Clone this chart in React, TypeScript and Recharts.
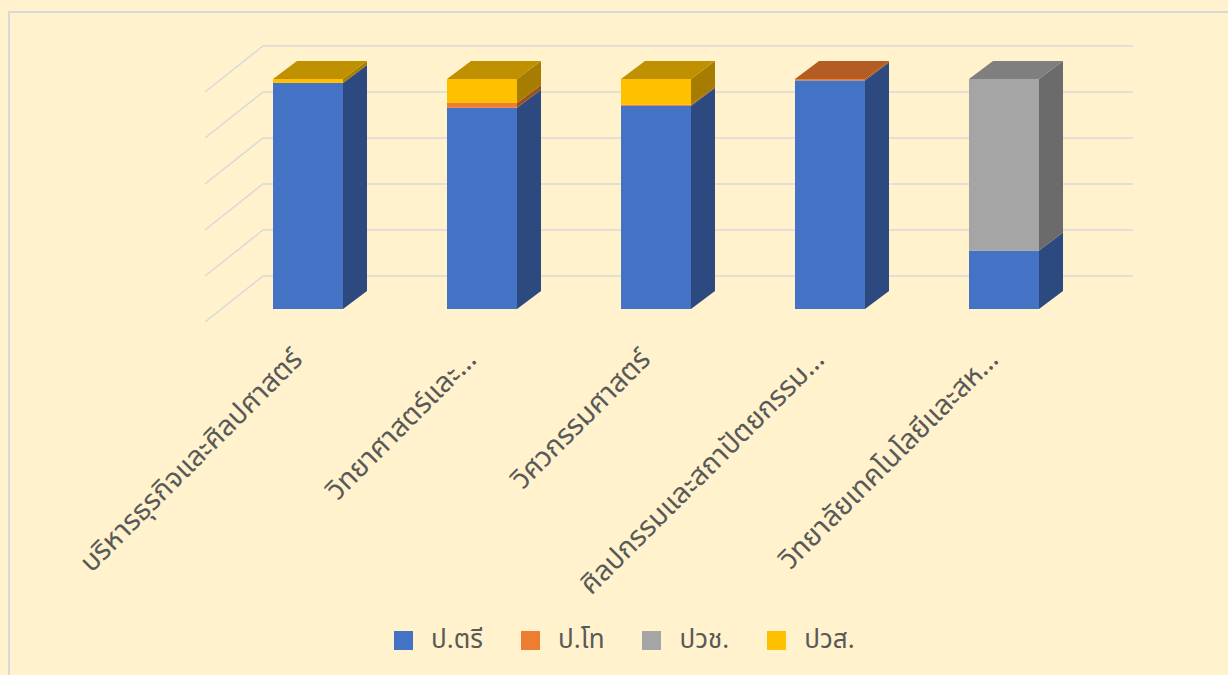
import { BarChart, Bar, XAxis, YAxis, CartesianGrid, Legend } from 'recharts';

const faculties = [
    'บริหารธุรกิจและศิลปศาสตร์',
    'วิทยาศาสตร์และ…',
    'วิศวกรรมศาสตร์',
    'ศิลปกรรมและสถาปัตยกรรม…',
    'วิทยาลัยเทคโนโลยีและสห…',
];

// สัดส่วน (%) ของนักศึกษาแต่ละระดับ
const bachelor = [98.3, 87.5, 88.3, 99.4, 25.4];
const master = [0, 2.1, 0.5, 0.6, 0];
const vocCert = [0, 0, 0, 0, 74.6];
const highVoc = [1.7, 10.4, 11.2, 0, 0];

const yTicks = [0, 20, 40, 60, 80, 100];

const series = [
    { key: 'bachelor', name: 'ป.ตรี', color: '#4472C4', side: '#2C4A80', top: '#334E8F' },
    { key: 'master', name: 'ป.โท', color: '#ED7D31', side: '#9A5120', top: '#B35C23' },
    { key: 'vocCert', name: 'ปวช.', color: '#A5A5A5', side: '#6B6B6B', top: '#7F7F7F' },
    { key: 'highVoc', name: 'ปวส.', color: '#FFC000', side: '#A67D00', top: '#BF9000' },
];

const data = faculties.map((name, i) => ({
    name,
    bachelor: bachelor[i],
    master: master[i],
    vocCert: vocCert[i],
    highVoc: highVoc[i],
}));

const FONT = "'Noto Sans Thai', 'Noto Sans', sans-serif";
const TEXT = '#595959';
const GRID = '#D9D9D9';

// perspective offsets
const BAR_DX = 24;
const BAR_DY = -18;
const FRONT = { dx: -16, dy: 13 };
const BACK = { dx: 42, dy: -33 };

function makeShape(idx: number) {
    return (props: any) => {
        const { x, y, width, height, payload } = props;
        const s = series[idx];
        if (!height || height <= 0) return <g />;
        const isTop = series.slice(idx + 1).every((o) => !payload[o.key]);
        const r = x + width;
        const b = y + height;
        return (
            <g>
                <polygon
                    points={`${r},${b} ${r + BAR_DX},${b + BAR_DY} ${r + BAR_DX},${y + BAR_DY} ${r},${y}`}
                    fill={s.side}
                />
                {isTop && (
                    <polygon
                        points={`${x},${y} ${r},${y} ${r + BAR_DX},${y + BAR_DY} ${x + BAR_DX},${y + BAR_DY}`}
                        fill={s.top}
                    />
                )}
                <rect x={x} y={y} width={width} height={height} fill={s.color} />
            </g>
        );
    };
}

const GridLine3D = (p: any) => {
    const { x1, x2, y1 } = p;
    return (
        <polyline
            key={p.key}
            points={`${x1 + FRONT.dx},${y1 + FRONT.dy} ${x1 + BACK.dx},${y1 + BACK.dy} ${x2 + BACK.dx},${y1 + BACK.dy}`}
            fill="none"
            stroke={GRID}
            strokeWidth={1.5}
        />
    );
};

const CategoryTick = ({ x, y, payload }: any) => (
    <g transform={`translate(${x - 4},${y + 50})`}>
        <text textAnchor="end" transform="rotate(-45)" fill={TEXT} fontSize={28} fontFamily={FONT}>
            {payload.value}
        </text>
    </g>
);

const LegendRow = ({ payload }: any) => (
    <div style={{ display: 'flex', alignItems: 'center', fontFamily: FONT }}>
        {(payload || []).map((e: any) => (
            <div key={e.value} style={{ display: 'flex', alignItems: 'center', marginRight: 38 }}>
                <span style={{ width: 19, height: 19, background: e.color, marginRight: 18, display: 'inline-block' }} />
                <span style={{ fontSize: 26, color: TEXT }}>{e.value}</span>
            </div>
        ))}
    </div>
);

export default function App() {
    return (
        <div style={{ position: 'fixed', left: 0, top: 0, width: 1228, height: 675, background: '#FFF2CC', overflow: 'hidden' }}>
            <div style={{ position: 'absolute', left: 8, top: 11, width: 1260, height: 700, border: `2px solid ${GRID}` }} />
            <div style={{ position: 'absolute', left: 0, top: 0 }}>
                <BarChart
                    width={1228}
                    height={675}
                    data={data}
                    margin={{ top: 79, right: 137, left: 221, bottom: 25 }}
                    barSize={70}
                >
                    <CartesianGrid vertical={false} horizontal={GridLine3D} />
                    <XAxis
                        dataKey="name"
                        axisLine={false}
                        tickLine={false}
                        tickSize={0}
                        interval={0}
                        height={311}
                        tick={<CategoryTick />}
                    />
                    <YAxis hide domain={[0, 100]} ticks={yTicks} />
                    <Legend
                        verticalAlign="bottom"
                        height={30}
                        content={<LegendRow />}
                        wrapperStyle={{ left: 394, width: 'auto' }}
                    />
                    {series.map((s, i) => (
                        <Bar
                            key={s.key}
                            dataKey={s.key}
                            name={s.name}
                            stackId="a"
                            fill={s.color}
                            shape={makeShape(i)}
                            isAnimationActive={false}
                        />
                    ))}
                </BarChart>
            </div>
        </div>
    );
}
